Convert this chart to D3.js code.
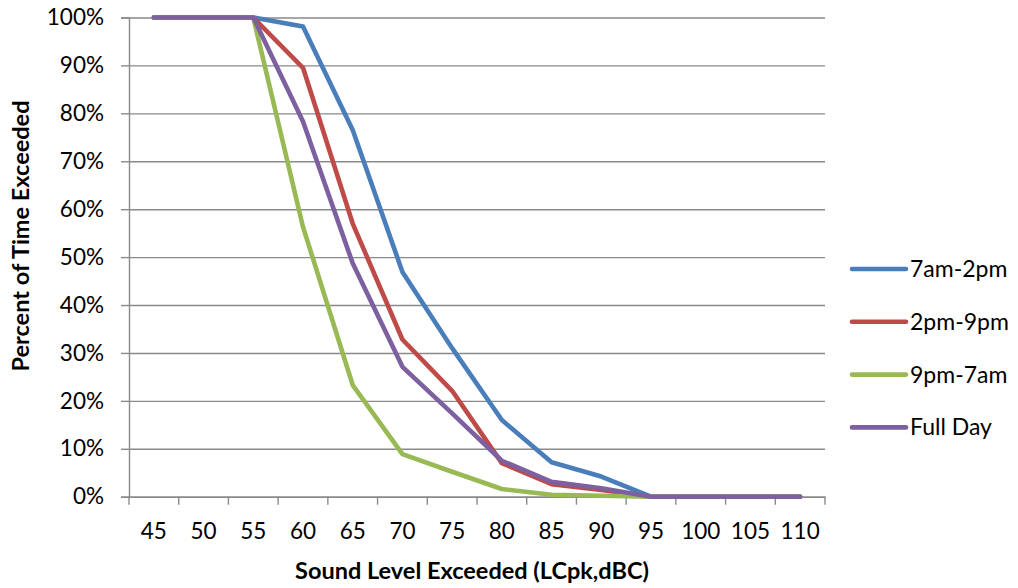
<!DOCTYPE html>
<html>
<head>
<meta charset="utf-8">
<script src="https://cdn.jsdelivr.net/npm/d3@7/dist/d3.min.js"></script>
<style>
  html, body { margin: 0; padding: 0; background: #fff; }
  svg { display: block; font-family: Lato, "Open Sans", sans-serif; }
</style>
</head>
<body>
<svg id="chart" width="1018" height="588"></svg>
<script>
// Sound level exceedance (LCpk, dBC) by time of day
const levels = ["45","50","55","60","65","70","75","80","85","90","95","100","105","110"];
const seriesNames = ["7am-2pm","2pm-9pm","9pm-7am","Full Day"];
const morning  = [1,1,1,0.981,0.765,0.469,0.310,0.160,0.072,0.042,0,0,0,0];
const evening  = [1,1,1,0.895,0.570,0.328,0.221,0.070,0.026,0.014,0,0,0,0];
const night    = [1,1,1,0.563,0.233,0.089,0.052,0.016,0.004,0.002,0,0,0,0];
const fullDay  = [1,1,1,0.783,0.487,0.271,0.174,0.075,0.031,0.0175,0,0,0,0];
const yTicks = [0,0.1,0.2,0.3,0.4,0.5,0.6,0.7,0.8,0.9,1];
const colors = ["#4A7EBB","#BE4B48","#98B954","#7D60A0"];

const seriesValues = [morning, evening, night, fullDay];

const svg = d3.select("#chart");
const plotLeft = 129, plotRight = 825, plotTop = 17.5, plotBottom = 496.7;

const x = d3.scaleBand().domain(levels).range([plotLeft, plotRight]).padding(0);
const y = d3.scaleLinear().domain([0, 1]).range([plotBottom, plotTop]);

// horizontal gridlines
svg.append("g")
  .attr("transform", `translate(${plotLeft},0)`)
  .call(d3.axisLeft(y).tickValues(yTicks).tickSize(-(plotRight - plotLeft)).tickFormat(""))
  .call(g => g.select(".domain").remove())
  .call(g => g.selectAll("line").attr("stroke", "#8a8a8a").attr("stroke-width", 1.4));

// y axis with outward ticks and percentage labels
svg.append("g")
  .attr("transform", `translate(${plotLeft},0)`)
  .call(d3.axisLeft(y).tickValues(yTicks).tickSize(8).tickPadding(17).tickFormat(d3.format(".0%")))
  .call(g => g.select(".domain").attr("stroke", "#8a8a8a").attr("stroke-width", 1.4))
  .call(g => g.selectAll("line").attr("stroke", "#8a8a8a").attr("stroke-width", 1.4))
  .call(g => g.selectAll("text").attr("font-family", "Lato, sans-serif").attr("font-size", 22.5).attr("fill", "#000"));

// x axis labels at band centres
svg.append("g")
  .attr("transform", `translate(0,${plotBottom})`)
  .call(d3.axisBottom(x).tickSize(0).tickPadding(26))
  .call(g => g.select(".domain").attr("stroke", "#8a8a8a").attr("stroke-width", 1.4))
  .call(g => g.selectAll("text").attr("font-family", "Lato, sans-serif").attr("font-size", 22.5).attr("fill", "#000"));

// x tick marks between categories
const bounds = levels.map(d => x(d)).concat([x(levels[levels.length - 1]) + x.bandwidth()]);
svg.append("g").selectAll("line").data(bounds).join("line")
  .attr("x1", d => d).attr("x2", d => d)
  .attr("y1", plotBottom).attr("y2", plotBottom + 8)
  .attr("stroke", "#8a8a8a").attr("stroke-width", 1.4);

// series lines
const line = d3.line()
  .x((d, i) => x(levels[i]) + x.bandwidth() / 2)
  .y(d => y(d));

svg.append("g").selectAll("path").data(seriesValues).join("path")
  .attr("d", d => line(d))
  .attr("fill", "none")
  .attr("stroke", (d, i) => colors[i])
  .attr("stroke-width", 4.6)
  .attr("stroke-linejoin", "round")
  .attr("stroke-linecap", "round");

// legend
const legend = svg.append("g").attr("transform", "translate(852,269)");
const item = legend.selectAll("g").data(seriesNames).join("g")
  .attr("transform", (d, i) => `translate(0,${i * 52.8})`);
item.append("line")
  .attr("x1", 0).attr("x2", 54).attr("y1", 0).attr("y2", 0)
  .attr("stroke", (d, i) => colors[i])
  .attr("stroke-width", 4.6)
  .attr("stroke-linecap", "round");
item.append("text")
  .attr("x", 58).attr("y", 0).attr("dy", "0.35em")
  .attr("font-size", 23).attr("fill", "#000")
  .text(d => d);

// axis titles
svg.append("text")
  .attr("x", 472).attr("y", 579)
  .attr("text-anchor", "middle")
  .attr("font-weight", "bold").attr("font-size", 23.5).attr("fill", "#000")
  .text("Sound Level Exceeded (LCpk,dBC)");

svg.append("text")
  .attr("transform", "translate(29,236) rotate(-90)")
  .attr("text-anchor", "middle")
  .attr("font-weight", "bold").attr("font-size", 23.5).attr("fill", "#000")
  .text("Percent of Time Exceeded");
</script>
</body>
</html>
